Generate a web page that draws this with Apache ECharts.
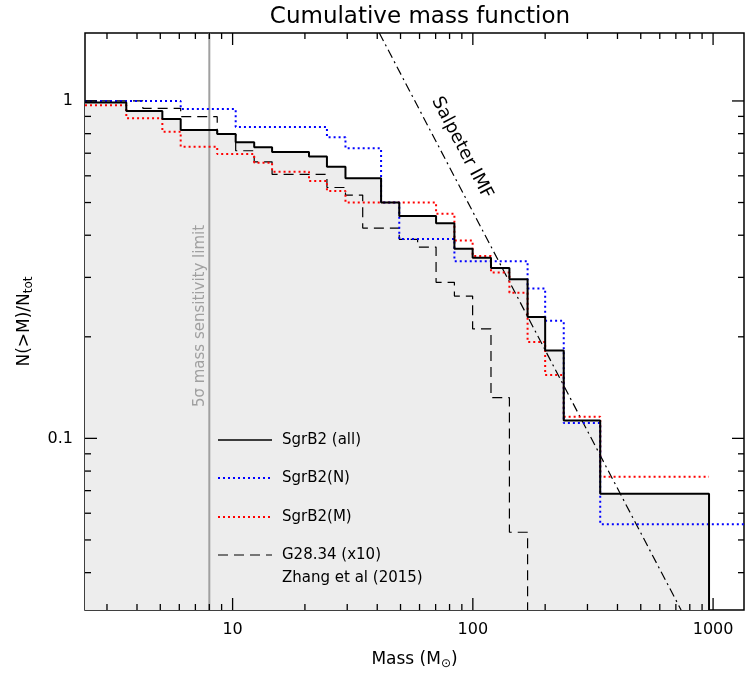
<!DOCTYPE html>
<html><head><meta charset="utf-8">
<script src="https://cdn.jsdelivr.net/npm/echarts@6/dist/echarts.min.js"></script>
<style>html,body{margin:0;padding:0;background:#fff}#c{width:747px;height:681px}</style>
</head><body><div id="c"></div>
<script>
const xMin = 2.43, xMax = 1345, yMin = 0.031, yMax = 1.59;
const xTickLabels = [10, 100, 1000];
const yTickLabels = [0.1, 1];
// [mass, N(>M)/Ntot] step points (value holds from mass until next point)
const sgrAll = [[2.43,0.99],[3.61,0.934],[5.1,0.884],[6.08,0.82],[8.63,0.798],[10.3,0.754],[12.3,0.729],[14.6,0.706],[20.8,0.684],[24.7,0.638],[29.5,0.59],[41.5,0.50],[49.4,0.456],[70.3,0.434],[83.8,0.365],[99.8,0.343],[119,0.32],[142,0.296],[169,0.229],[200,0.182],[239,0.113],[339,0.0685],[962,0.0685],[962,0.031]];
const sgrN = [[2.43,1.0],[6.08,0.946],[10.3,0.837],[24.7,0.78],[29.5,0.724],[41.5,0.50],[49.4,0.39],[83.8,0.335],[169,0.278],[200,0.223],[239,0.111],[339,0.0557],[1345,0.0557]];
const sgrM = [[2.43,0.971],[3.61,0.889],[5.1,0.811],[6.08,0.732],[8.63,0.696],[12.3,0.656],[14.6,0.617],[20.8,0.579],[24.7,0.541],[29.5,0.50],[70.3,0.463],[83.8,0.386],[99.8,0.347],[119,0.31],[142,0.27],[169,0.193],[200,0.154],[239,0.116],[339,0.077],[962,0.077]];
const g2834 = [[2.43,1.0],[4.23,0.951],[6.08,0.898],[8.63,0.798],[10.3,0.712],[12.3,0.66],[14.6,0.606],[24.7,0.554],[29.5,0.526],[34.8,0.42],[49.4,0.389],[58.9,0.369],[70.3,0.29],[83.8,0.264],[99.8,0.211],[119,0.132],[142,0.0527],[169,0.0527],[169,0.031]];
const salpeter = [[40.8,1.59],[736,0.031]];
const sensLimit = 8;
const xMinor = [3,4,5,6,7,8,9,20,30,40,50,60,70,80,90,200,300,400,500,600,700,800,900];
const yMinor = [0.04,0.05,0.06,0.07,0.08,0.09,0.2,0.3,0.4,0.5,0.6,0.7,0.8,0.9];

const F = 'DejaVu Sans';
function tickSeries(vals, isX, len){
  return {type:'custom', silent:true, z:10, data: vals.map(v=>[v]),
    renderItem:(p, api)=>{
      const cs = p.coordSys; const v = api.value(0);
      if (isX){ const x = api.coord([v, yMin])[0];
        return {type:'group',children:[
          {type:'line',shape:{x1:x,y1:cs.y+cs.height,x2:x,y2:cs.y+cs.height-len},style:{stroke:'#000',lineWidth:1.3}},
          {type:'line',shape:{x1:x,y1:cs.y,x2:x,y2:cs.y+len},style:{stroke:'#000',lineWidth:1.3}}]};
      } else { const y = api.coord([xMin, v])[1];
        return {type:'group',children:[
          {type:'line',shape:{x1:cs.x,y1:y,x2:cs.x+len,y2:y},style:{stroke:'#000',lineWidth:1.3}},
          {type:'line',shape:{x1:cs.x+cs.width,y1:y,x2:cs.x+cs.width-len,y2:y},style:{stroke:'#000',lineWidth:1.3}}]};
      }
    }};
}
const chart = echarts.init(document.getElementById('c'));
const legendY = [440, 478, 517, 555];
chart.setOption({
  animation:false,
  backgroundColor:'#fff',
  title:{text:'Cumulative mass function', left:415, top:1, textAlign:'center',
    textStyle:{fontFamily:F, fontSize:23, fontWeight:'normal', color:'#000'}},
  grid:{left:85, right:2, top:33, bottom:71, show:true, borderColor:'#000', borderWidth:1.5, backgroundColor:'#fff'},
  xAxis:{type:'log', min:xMin, max:xMax, logBase:10,
    name:'Mass (M{s|⊙})', nameLocation:'middle', nameGap:40,
    nameTextStyle:{fontFamily:F, fontSize:17, color:'#000', rich:{s:{fontFamily:F,fontSize:12,verticalAlign:'bottom',padding:[8,0,0,0]}}},
    axisLine:{show:false}, axisTick:{show:false}, splitLine:{show:false},
    axisLabel:{fontFamily:F, fontSize:16, color:'#000', margin:12,
      formatter:v=> xTickLabels.some(t=>Math.abs(t-v)/t<1e-6) ? String(Math.round(v)) : ''}},
  yAxis:{type:'log', min:yMin, max:yMax, logBase:10,
    name:'N(>M)/N{s|tot}', nameLocation:'middle', nameGap:50, nameRotate:90,
    nameTextStyle:{fontFamily:F, fontSize:17, color:'#000', rich:{s:{fontFamily:F,fontSize:12,padding:[8,0,0,0]}}},
    axisLine:{show:false}, axisTick:{show:false}, splitLine:{show:false},
    axisLabel:{fontFamily:F, fontSize:16, color:'#000', margin:12,
      formatter:v=> yTickLabels.some(t=>Math.abs(t-v)/t<1e-6) ? (v>=1?'1':'0.1') : ''}},
  series:[
    {type:'line', data:sgrAll, step:'end', symbol:'none', z:1,
      lineStyle:{width:0}, areaStyle:{color:'#ededed', origin:'start', opacity:1}},
    {type:'line', data:[[sensLimit,yMin],[sensLimit,yMax]], symbol:'none', z:2,
      lineStyle:{color:'#a0a0a0', width:2}},
    {type:'line', data:salpeter, symbol:'none', z:3, lineStyle:{color:'#000', width:1.2, type:[9,4,2,4]}},
    {type:'line', data:g2834, step:'end', symbol:'none', z:4, lineStyle:{color:'#000', width:1.2, type:[10,6]}},
    {type:'line', data:sgrM, step:'end', symbol:'none', z:5, lineStyle:{color:'#ff0000', width:2, type:[2,3]}},
    {type:'line', data:sgrN, step:'end', symbol:'none', z:6, lineStyle:{color:'#0000ff', width:2, type:[2,3]}},
    {type:'line', data:sgrAll, step:'end', symbol:'none', z:7, lineStyle:{color:'#000', width:2}},
    tickSeries(xTickLabels, true, 12), tickSeries(xMinor, true, 6),
    tickSeries(yTickLabels, false, 12), tickSeries(yMinor, false, 6)
  ],
  graphic:[
    {type:'text', x:200, y:316, rotation:Math.PI/2, z:20,
      style:{text:'5σ mass sensitivity limit', fill:'#a0a0a0', font:'15px "DejaVu Sans"', align:'center', verticalAlign:'middle'}},
    {type:'text', x:462, y:148, rotation:-62.4*Math.PI/180, z:20,
      style:{text:'Salpeter IMF', fill:'#000', font:'18px "DejaVu Sans"', align:'center', verticalAlign:'middle'}},
    {type:'line', shape:{x1:218,y1:legendY[0],x2:272,y2:legendY[0]}, style:{stroke:'#000', lineWidth:1.3}, z:20},
    {type:'line', shape:{x1:218,y1:legendY[1],x2:272,y2:legendY[1]}, style:{stroke:'#0000ff', lineWidth:2, lineDash:[2,3]}, z:20},
    {type:'line', shape:{x1:218,y1:legendY[2],x2:272,y2:legendY[2]}, style:{stroke:'#ff0000', lineWidth:2, lineDash:[2,3]}, z:20},
    {type:'line', shape:{x1:218,y1:legendY[3],x2:272,y2:legendY[3]}, style:{stroke:'#000', lineWidth:1.2, lineDash:[10,6]}, z:20},
    {type:'text', x:282, y:legendY[0], z:20, style:{text:'SgrB2 (all)', fill:'#000', font:'15px "DejaVu Sans"', verticalAlign:'middle'}},
    {type:'text', x:282, y:legendY[1], z:20, style:{text:'SgrB2(N)', fill:'#000', font:'15px "DejaVu Sans"', verticalAlign:'middle'}},
    {type:'text', x:282, y:legendY[2], z:20, style:{text:'SgrB2(M)', fill:'#000', font:'15px "DejaVu Sans"', verticalAlign:'middle'}},
    {type:'text', x:282, y:legendY[3], z:20, style:{text:'G28.34 (x10)', fill:'#000', font:'15px "DejaVu Sans"', verticalAlign:'middle'}},
    {type:'text', x:282, y:legendY[3]+23, z:20, style:{text:'Zhang et al (2015)', fill:'#000', font:'15px "DejaVu Sans"', verticalAlign:'middle'}}
  ]
});
</script></body></html>
